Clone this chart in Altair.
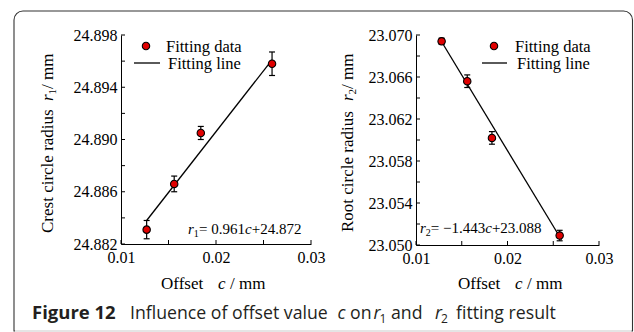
import altair as alt
import pandas as pd

# ---- data ----
c_left = [0.0127, 0.0156, 0.0184, 0.0259]
r1_vals = [24.8831, 24.8866, 24.8905, 24.8958]
r1_err = [0.0007, 0.0006, 0.0005, 0.0009]
fit1_c = [0.0127, 0.0259]
fit1_r = [24.8838, 24.8961]

c_right = [0.0128, 0.0156, 0.0183, 0.0257]
r2_vals = [23.0694, 23.0656, 23.0602, 23.0509]
r2_err = [0.0003, 0.0006, 0.0006, 0.0005]
fit2_c = [0.0127, 0.0259]
fit2_r = [23.0695, 23.0505]

x_tick_vals = [0.01, 0.015, 0.02, 0.025, 0.03]
x_label_vals = [0.01, 0.02, 0.03]
r1_tick_vals = [24.882, 24.884, 24.886, 24.888, 24.890, 24.892, 24.894, 24.896, 24.898]
r1_label_vals = [24.882, 24.886, 24.890, 24.894, 24.898]
r2_tick_vals = [23.050, 23.052, 23.054, 23.056, 23.058, 23.060, 23.062, 23.064, 23.066, 23.068, 23.070]
r2_label_vals = [23.050, 23.054, 23.058, 23.062, 23.066, 23.070]

SERIF = "'Liberation Serif', 'Times New Roman', 'DejaVu Serif', serif"
SANS = "'Open Sans', 'Noto Sans', sans-serif"
CAP = "#231f20"
CS = 17.7
ONE = alt.Data(values=[{"k": 0}])


def txt(s, x, y, size=17, font=SERIF, style="normal", weight="normal", angle=0, align="left", color="black"):
    return alt.Chart(ONE).mark_text(
        text=s, font=font, fontSize=size, fontStyle=style, fontWeight=weight,
        angle=angle, align=align, baseline="alphabetic", color=color
    ).encode(x=alt.value(x), y=alt.value(y))


def panel(cs, rs, errs, fc, fr, ytick, ylab, ydom, W, H, extra):
    df = pd.DataFrame({"c": cs, "r": rs,
                       "lo": [a - b for a, b in zip(rs, errs)],
                       "hi": [a + b for a, b in zip(rs, errs)]})
    fit = pd.DataFrame({"c": fc, "r": fr})
    xsc = alt.Scale(domain=[0.01, 0.03], nice=False, zero=False)
    ysc = alt.Scale(domain=ydom, nice=False, zero=False)
    xax = alt.Axis(values=x_label_vals, format=".2f", title=None, labelFlush=False)
    yax = alt.Axis(values=ylab, format=".3f", title=None, labelFlush=False)
    X = alt.X("c:Q", scale=xsc, axis=xax)

    line = alt.Chart(fit).mark_line(color="black", strokeWidth=1.3).encode(
        x=X, y=alt.Y("r:Q", scale=ysc, axis=yax))
    bars = alt.Chart(df).mark_rule(color="black", strokeWidth=1.2).encode(
        x=X, y=alt.Y("lo:Q", scale=ysc, axis=yax), y2="hi:Q")
    cap_lo = alt.Chart(df).mark_tick(orient="horizontal", size=6, thickness=1.2, color="black", opacity=1).encode(
        x=X, y=alt.Y("lo:Q", scale=ysc, axis=yax))
    cap_hi = alt.Chart(df).mark_tick(orient="horizontal", size=6, thickness=1.2, color="black", opacity=1).encode(
        x=X, y=alt.Y("hi:Q", scale=ysc, axis=yax))
    pts = alt.Chart(df).mark_circle(color="#e00000", stroke="black", strokeWidth=1.1, size=55, opacity=1).encode(
        x=X, y=alt.Y("r:Q", scale=ysc, axis=yax))

    xt = alt.Chart(pd.DataFrame({"c": x_tick_vals})).mark_rule(color="black", strokeWidth=1).encode(
        x=X, y=alt.value(H), y2=alt.value(H - 4))
    yt = alt.Chart(pd.DataFrame({"r": ytick})).mark_rule(color="black", strokeWidth=1).encode(
        y=alt.Y("r:Q", scale=ysc, axis=yax), x=alt.value(0), x2=alt.value(4))

    layers = extra[0] + [line, bars, cap_lo, cap_hi, pts, xt, yt] + extra[1]
    return alt.layer(*layers).properties(width=W, height=H)


# ---------- left panel decorations (coordinates relative to left plot origin) ----------
bounds_rect = alt.Chart(ONE).mark_rect(opacity=0).encode(
    x=alt.value(-121), x2=alt.value(513), y=alt.value(-35), y2=alt.value(297))
frame = alt.Chart(ONE).mark_rect(
    fill="white", fillOpacity=0, stroke="#333333", strokeWidth=1.1,
    cornerRadiusTopLeft=9, cornerRadiusTopRight=9).encode(
    x=alt.value(-107), x2=alt.value(511.5), y=alt.value(-24), y2=alt.value(296))
cover = alt.Chart(ONE).mark_rule(color="white", strokeWidth=1.6).encode(
    x=alt.value(-106), x2=alt.value(510.5), y=alt.value(296))

left_extra_back = [bounds_rect, frame, cover]
left_extra_front = [
    # legend
    alt.Chart(ONE).mark_circle(color="#e00000", stroke="black", strokeWidth=1.1, size=55, opacity=1).encode(
        x=alt.value(25), y=alt.value(11)),
    txt("Fitting data", 45, 16.5, size=16.5),
    alt.Chart(ONE).mark_rule(color="black", strokeWidth=1.3).encode(
        x=alt.value(13), x2=alt.value(39), y=alt.value(28)),
    txt("Fitting line", 47, 33.5, size=16.5),
    # equation
    txt("r", 67, 199, size=15, style="italic"),
    txt("1", 72.8, 202, size=10),
    txt("= 0.961", 78, 199, size=15),
    txt("c", 124, 199, size=15, style="italic"),
    txt("+24.872", 130.7, 199, size=15),
    # y title
    txt("Crest circle radius", -68, 198, angle=270),
    txt("r", -68, 66, angle=270, style="italic"),
    txt("1", -65, 59.4, size=11, angle=270),
    txt(" / mm", -68, 54, angle=270),
    # x title
    txt("Offset", 40, 254),
    txt("c", 97, 254, style="italic"),
    txt("/ mm", 109, 254),
    # caption
    txt("Figure 12", -89, 284, size=18.5, font=SANS, weight="bold", color=CAP),
    txt("Influence of offset value", 9, 284, size=CS, font=SANS, color=CAP),
    txt("c", 216.5, 284, size=CS, font=SANS, style="italic", color=CAP),
    txt("on", 229, 284, size=CS, font=SANS, color=CAP),
    txt("r", 252.5, 284, size=CS, font=SANS, style="italic", color=CAP),
    txt("1", 258.5, 288, size=12, font=SANS, color=CAP),
    txt("and", 270, 284, size=CS, font=SANS, color=CAP),
    txt("r", 314, 284, size=CS, font=SANS, style="italic", color=CAP),
    txt("2", 320, 288, size=12, font=SANS, color=CAP),
    txt("fitting result", 335, 284, size=CS, font=SANS, color=CAP),
]

right_extra_front = [
    alt.Chart(ONE).mark_circle(color="#e00000", stroke="black", strokeWidth=1.1, size=55, opacity=1).encode(
        x=alt.value(78), y=alt.value(11)),
    txt("Fitting data", 99, 16.5, size=16.5),
    alt.Chart(ONE).mark_rule(color="black", strokeWidth=1.3).encode(
        x=alt.value(66), x2=alt.value(91), y=alt.value(28)),
    txt("Fitting line", 101, 33.5, size=16.5),
    txt("r", 4, 198, size=15, style="italic"),
    txt("2", 9.8, 201, size=10),
    txt("= \u22121.443", 14.8, 198, size=15),
    txt("c", 69.2, 198, size=15, style="italic"),
    txt("+23.088", 75.9, 198, size=15),
    txt("Root circle radius", -63, 197, angle=270),
    txt("r", -63, 66, angle=270, style="italic"),
    txt("2", -60, 59.4, size=11, angle=270),
    txt(" / mm", -63, 54, angle=270),
    txt("Offset", 42, 254),
    txt("c", 99, 254, style="italic"),
    txt("/ mm", 111, 254),
]

left = panel(c_left, r1_vals, r1_err, fit1_c, fit1_r, r1_tick_vals, r1_label_vals,
             [24.882, 24.898], 190, 209, (left_extra_back, left_extra_front))
right = panel(c_right, r2_vals, r2_err, fit2_c, fit2_r, r2_tick_vals, r2_label_vals,
              [23.050, 23.070], 183, 210, ([], right_extra_front))

chart = alt.hconcat(left, right, spacing=105, bounds="flush").resolve_scale(
    x="independent", y="independent"
).properties(padding=0, background="white").configure_view(stroke=None).configure_axis(
    labelFont=SERIF, labelFontSize=16, labelColor="black", domainColor="black",
    domainWidth=1, ticks=False, tickSize=0, grid=False
).configure_axisX(labelPadding=5).configure_axisY(labelPadding=4)

chart.save("out.html", embed_options={"renderer": "svg", "actions": False})
